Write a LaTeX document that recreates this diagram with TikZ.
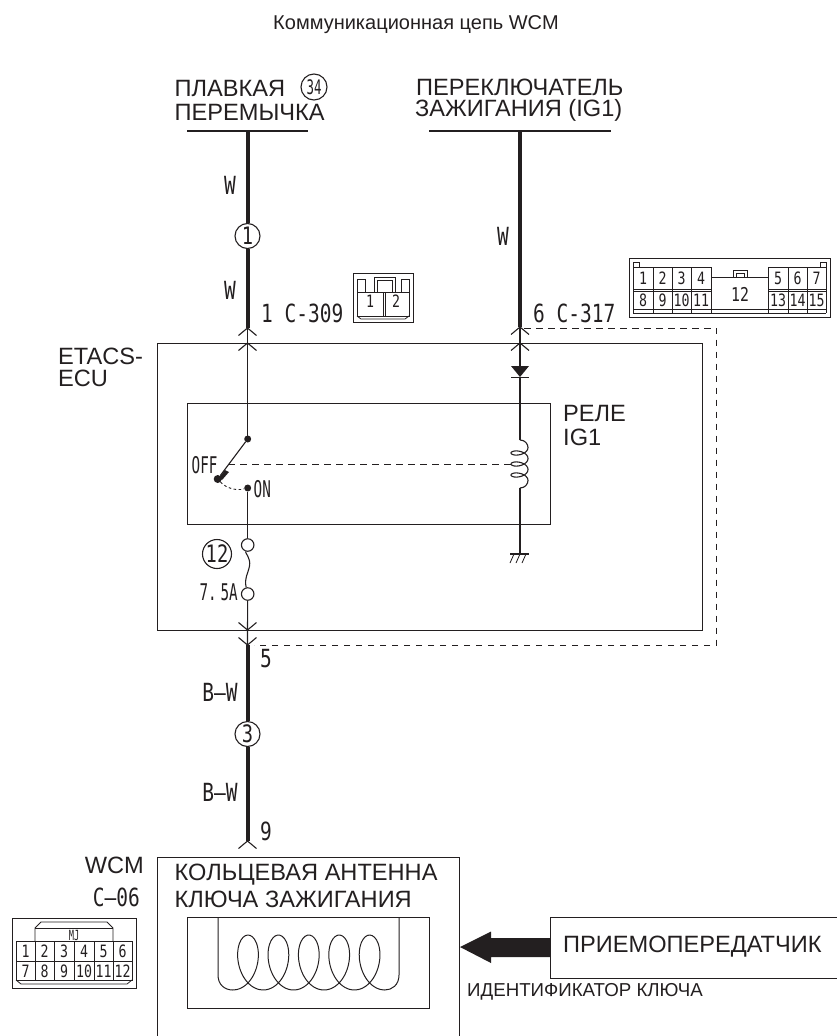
\documentclass[tikz,border=0pt]{standalone}
\usepackage{fontspec}
\setmainfont{Liberation Sans}
\newfontfamily\nar[FakeStretch=0.78]{DejaVu Sans Mono}
\newfontfamily\nars[FakeStretch=0.62]{DejaVu Sans Mono}
\definecolor{ink}{HTML}{231F20}
\newcommand{\fs}[1]{\fontsize{#1}{#1}\selectfont}
\newcommand{\chevup}[2]{\draw[thin wire] (#1-9,#2+7.5) -- (#1,#2) -- (#1+9,#2+7.5);}
\newcommand{\chevdn}[2]{\draw[thin wire] (#1-9,#2-7.5) -- (#1,#2) -- (#1+9,#2-7.5);}
\begin{document}
\begin{tikzpicture}[x=1pt,y=-1pt,
  thin wire/.style={draw=ink,line width=1.1pt},
  thick wire/.style={draw=ink,line width=4pt},
  bus/.style={draw=ink,line width=2.4pt},
  box/.style={draw=ink,line width=0.95pt},
  dashline/.style={draw=ink,line width=1pt,dash pattern=on 6.5pt off 5.5pt},
  fine/.style={draw=ink,line width=0.8pt},
  circ/.style={circle,draw=ink,line width=1.1pt,fill=white,inner sep=0pt,minimum size=#1},
  dot/.style={circle,fill=ink,inner sep=0pt,minimum size=#1},
  big/.style={text=ink,font=\fs{23.6},align=left,inner sep=0pt},
  lab/.style={text=ink,font=\nar\fs{25},inner sep=0pt},
  slab/.style={text=ink,font=\nars\fs{23},inner sep=0pt},
  pin/.style={text=ink,font=\nar\fs{17},inner sep=0pt},
  pinb/.style={text=ink,font=\nars\fs{17},inner sep=0pt}]
\useasboundingbox (0,0) rectangle (836,1036);

\node[text=ink,font=\fs{20},inner sep=0pt] (title) at (416,25) {Коммуникационная цепь WCM};

% top labels
\node[big,anchor=west] (tA1) at (174.5,88) {ПЛАВКАЯ};
\node[big,anchor=west] (tA2) at (174.5,112) {ПЕРЕМЫЧКА};
\node[circ=26,fill=none,font=\nars\fs{20},text=ink] (f34) at (314,87) {34};
\node[big,anchor=west] (tB1) at (416,87) {ПЕРЕКЛЮЧАТЕЛЬ};
\node[big,anchor=west] (tB2) at (415,110.5) {ЗАЖИГАНИЯ (IG1)};

% coordinates
\coordinate (busA) at (247.5,131);
\coordinate (busAl) at (187,131);
\coordinate (busAr) at (308,131);
\coordinate (busB) at (520,131);
\coordinate (busBl) at (429,131);
\coordinate (busBr) at (611,131);
\draw[bus] (busAl) -- (busAr);
\draw[bus] (busBl) -- (busBr);

% boxes
\node[box,minimum width=545,minimum height=287,inner sep=0pt] (ecu) at (429.5,486.5) {};
\node[box,minimum width=363,minimum height=121,inner sep=0pt] (relay) at (368.5,463.5) {};
\node[box,anchor=north west,minimum width=302,minimum height=190,inner sep=0pt] (wcm) at (157,857) {};
\node[box,anchor=north west,minimum width=242,minimum height=91,inner sep=0pt] (ant) at (187,917) {};

% left wire top
\node[circ=25,font=\nar\fs{24},text=ink] (c1) at (247.5,236) {1};
\coordinate (pA) at (247.5,328);
\coordinate (pAi) at (247.5,343);
\coordinate (swT) at (247.5,439);
\draw[thick wire] (busA) -- (c1);
\draw[thick wire] (c1) -- (pA);
\chevup{247.5}{328}
\chevup{247.5}{343}
\draw[thin wire] (pA) -- (pAi) -- (swT);
\node[lab] (w1) at (230,185) {W};
\node[lab] (w2) at (230,290) {W};
\node[lab,anchor=west] (l1) at (261,313) {1 C-309};

% right wire top
\coordinate (pB) at (520,327);
\coordinate (pBi) at (520,343);
\draw[thick wire] (busB) -- (pB);
\chevup{520}{327}
\chevup{520}{343}
\node[lab] (w3) at (503,236) {W};
\node[lab,anchor=west] (l6) at (533,313) {6 C-317};

% diode
\coordinate (dT) at (520,366);
\coordinate (dB) at (520,377);
\draw[thin wire] (pB) -- (pBi) -- (dT);
\fill[ink] (511,366) -- (529,366) -- (dB) -- cycle;
\draw[thin wire] (511,377.5) -- (529,377.5);

% relay coil
\coordinate (coT) at (520,440);
\coordinate (coB) at (520,488);
\draw[thin wire] (dB) -- (coT);
\draw[thin wire] (coT) .. controls (525,440) and (528,444) .. (528,447.5)
  plot[smooth,domain=0:1080,samples=90,variable=\t] ({519.5+8.5*cos(\t)},{447.5+11*\t/360+4.5*sin(\t)})
  .. controls (528,484) and (525,488) .. (coB);
\coordinate (gnd) at (520,554);
\draw[thin wire] (coB) -- (520,523);
\draw[ink,line width=1.6pt] (520,523) -- (520,531);
\draw[thin wire] (520,531) -- (gnd);
\draw[thin wire] (510,554) -- (529,554);
\foreach \x in {514,520,526} \draw[fine] (\x,554) -- (\x-4,563);

% switch
\node[dot=7] (swTop) at (247.7,439) {};
\node[dot=8] (swOff) at (217.7,479) {};
\node[dot=7] (swOn) at (247.7,488) {};
\draw[thin wire] (swTop) -- (swOff);
\fill[ink] (219,478) -- (225,470) -- (229,472) -- (222,480) -- cycle;
\draw[dashline,dash pattern=on 2.5pt off 2.5pt,line width=0.9pt] (swOff) .. controls (226,488) and (236,491) .. (swOn);
\coordinate (dashL) at (228,464);
\coordinate (dashR) at (511,464);
\draw[dashline] (dashL) -- (dashR);
\node[slab,anchor=west] (off) at (191.5,465) {OFF};
\node[slab,anchor=west] (on) at (253.5,489) {ON};

% fuse
\node[circ=12.5] (fT) at (247.7,545) {};
\node[circ=12.5] (fB) at (247.7,594) {};
\draw[thin wire] (swOn) -- (fT);
\draw[thin wire] (fT) .. controls (245,553) and (251,558) .. (249.5,566)
  .. controls (248,574) and (244,578) .. (fB);
\node[circ=29,fill=none,font=\nar\fs{24},text=ink] (f12) at (217,554) {12};
\node[slab,anchor=east] (a75) at (238,592) {7.\,5A};
\coordinate (pC) at (247.5,630);
\coordinate (pD) at (247.5,645);
\draw[thin wire] (fB) -- (pC) -- (pD);
\chevdn{247.5}{630}
\chevdn{247.5}{645}

% dashed shield
\coordinate (dash1) at (716.5,328);
\coordinate (dash2) at (716.5,645);
\coordinate (dash3) at (254,645);
\coordinate (dash0) at (524,328);
\draw[dashline] (dash0) -- (dash1) -- (dash2) -- (dash3);

% lower wire
\node[circ=25,font=\nar\fs{24},text=ink] (c3) at (247.5,734) {3};
\coordinate (pE) at (247.5,841);
\draw[thick wire] (pD) -- (c3);
\draw[thick wire] (c3) -- (pE);
\chevup{247.5}{841}
\node[lab] (bw1) at (220,692) {B–W};
\node[lab] (bw2) at (220,792) {B–W};
\node[lab,anchor=west] (l5) at (260,659) {5};
\node[lab,anchor=west] (l9) at (260,831) {9};

% side labels
\node[big,anchor=west] (etacs1) at (58,356) {ETACS-};
\node[big,anchor=west] (etacs2) at (58,378) {ECU};
\node[big,anchor=west] (rel1) at (563,413.5) {РЕЛЕ};
\node[big,anchor=west] (rel2) at (563,437) {IG1};
\node[big,anchor=east] (wcmL) at (144,865) {WCM};
\node[lab,anchor=east] (c06) at (140,897) {C–06};

% WCM text
\node[big,anchor=west] (k1) at (174.5,875) {КОЛЬЦЕВАЯ АНТЕННА};
\node[big,anchor=west] (k2) at (174.5,899) {КЛЮЧА ЗАЖИГАНИЯ};

% antenna coil
\coordinate (ant1) at (218,917);
\coordinate (ant2) at (399,917);
\draw[fine,line width=1pt] (ant1) -- (218,975) .. controls (218,985) and (225,990) .. (232.8,990)
  plot[smooth,domain=-180:1620,samples=160,variable=\t] ({248+0.08444*\t-17.3*sin(\t)},{962.5-27.5*cos(\t)})
  .. controls (392,990) and (399,985) .. (399,975) -- (ant2);

% transceiver
\node[box,anchor=north west,minimum width=290,minimum height=61,inner sep=0pt] (trx) at (550,917) {};
\node[big,anchor=west] (trxL) at (563,947) {ПРИЕМОПЕРЕДАТЧИК};
\coordinate (arrTip) at (460,947);
\fill[ink] (trx.west |- 0,938) -- (491,938) -- (491,931.5) -- (arrTip) -- (491,963) -- (491,957) -- (trx.west |- 0,957) -- cycle;
\node[text=ink,font=\fs{18.7},anchor=west,inner sep=0pt] (idk) at (467,992) {ИДЕНТИФИКАТОР КЛЮЧА};

% connector C-309
\node[box,anchor=north west,minimum width=60,minimum height=49,inner sep=0pt] (cA) at (353,273) {};
\draw[fine] (357,292) rectangle (409,316);
\draw[fine] (357,316) -- (361,319) -- (405,319) -- (409,316);
\draw[fine] (357,292) -- (357,279) -- (365,279) -- (365,292);
\draw[fine] (401,292) -- (401,279) -- (409,279) -- (409,292);
\draw[fine] (374,292) -- (374,277) -- (395,277) -- (395,292);
\draw[fine] (377,292) -- (377,280) -- (392,280) -- (392,292);
\draw[fine] (383,292) -- (383,316);
\draw[fine] (385,292) -- (385,316);
\node[pin] (a1) at (370,301) {1};
\node[pin] (a2) at (396,301) {2};

% connector C-317
\node[box,anchor=north west,minimum width=201,minimum height=59,inner sep=0pt] (cB) at (629,258) {};
\draw[fine] (633,313) -- (826,313) (633,309) -- (826,309);
\draw[fine] (633,267) -- (711,267) (768,267) -- (826,267);
\draw[fine] (633,289) -- (711,289) (768,289) -- (826,289);
\draw[fine] (633,291) -- (711,291) (768,291) -- (826,291);
\foreach \x in {633,653,672,691,711,768,788,807,826} \draw[fine] (\x,267) -- (\x,313);
\draw[fine] (711,277) -- (768,277);
\draw[fine] (733,277) -- (733,270) -- (747,270) -- (747,277) (736,277) -- (736,273) -- (744,273) -- (744,277);
\draw[fine] (633,267) -- (633,262) -- (639,262) -- (639,267) (820,267) -- (820,262) -- (826,262) -- (826,267);
\foreach \n/\x in {1/643,2/662.5,3/681.5,4/701,5/778,6/797.5,7/816.5} \node[pin] at (\x,278) {\n};
\foreach \n/\x in {8/643,9/662.5,10/681.5,11/701,13/778,14/797.5,15/816.5} \node[pin] at (\x,300) {\n};
\node[pin,font=\nar\fs{19}] (b12) at (740,294) {12};

% connector C-06
\node[box,anchor=north west,minimum width=124,minimum height=70,inner sep=0pt] (cC) at (12,918) {};
\draw[fine] (16,941) rectangle (132,980);
\draw[fine] (16,961) -- (132,961);
\foreach \x in {35,54,74,94,113} \draw[fine] (\x,941) -- (\x,980);
\draw[fine] (16,980) -- (21,984) -- (127,984) -- (132,980);
\draw[fine] (35,941) -- (35,928) -- (41,922) -- (107,922) -- (113,928) -- (113,941);
\draw[fine] (35,928) -- (113,928);
\node[pinb,font=\nars\fs{14}] (mj) at (74,935) {MJ};
\foreach \n/\x in {1/25.5,2/44.5,3/64,4/84,5/103.5,6/122.5} \node[pin] at (\x,951) {\n};
\foreach \n/\x in {7/25.5,8/44.5,9/64,10/84,11/103.5,12/122.5} \node[pin] at (\x,971) {\n};
\end{tikzpicture}
\end{document}
